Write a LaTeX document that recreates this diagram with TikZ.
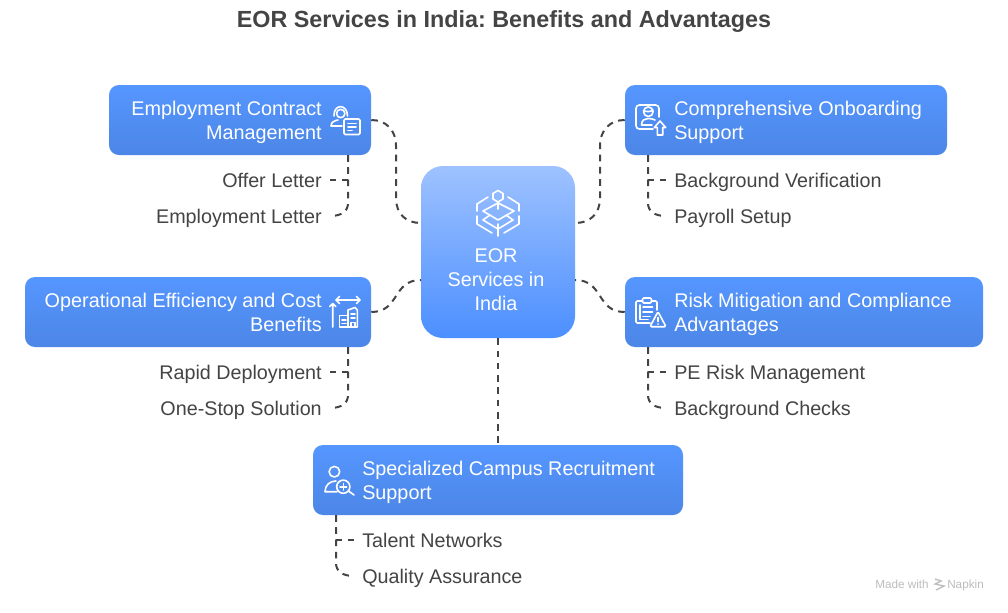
\documentclass[tikz,border=0pt]{standalone}
\usepackage{fontspec}
\setmainfont{Liberation Sans}
\frenchspacing
\definecolor{ink}{HTML}{444444}
\definecolor{bt}{HTML}{5596FF}
\definecolor{bb}{HTML}{4C86E6}
\definecolor{ct}{HTML}{9EC2FF}
\definecolor{cb}{HTML}{4C8FFF}
\definecolor{brandgrey}{HTML}{BDBDBD}
\tikzset{
 boxnode/.style={rectangle,rounded corners=7.5pt,inner sep=0pt,top color=bt,bottom color=bb,draw=none},
 centerbox/.style={rectangle,rounded corners=16.5pt,inner sep=0pt,top color=ct,bottom color=cb,draw=none},
 label/.style={text=white,font=\fontsize{14.85}{18}\selectfont,inner sep=0pt},
 leaf/.style={text=ink,font=\fontsize{14.8}{18}\selectfont,inner sep=0pt},
 conn/.style={draw=ink,line width=1.5pt,dash pattern=on 5pt off 4.2pt},
 icon/.style={draw=white,line width=1.2pt,line join=round,line cap=round},
}
\newcommand{\dpt}{\vphantom{p}}
\begin{document}
\begin{tikzpicture}[x=0.75pt,y=-0.75pt]
\useasboundingbox (0,0) rectangle (1008,612);
\fill[white] (0,0) rectangle (1008,612);
\node[text=ink,font=\fontsize{17.5}{22}\bfseries\selectfont,inner sep=0pt] (title) at (504,22) {EOR Services in India: Benefits and Advantages};
% boxes
\node[boxnode,minimum width=262*0.75pt,minimum height=70*0.75pt] (ec) at (240,120) {};
\node[boxnode,minimum width=322*0.75pt,minimum height=70*0.75pt] (co) at (786,120) {};
\node[boxnode,minimum width=346*0.75pt,minimum height=70*0.75pt] (oe) at (198,312) {};
\node[boxnode,minimum width=358*0.75pt,minimum height=70*0.75pt] (rm) at (804,312) {};
\node[boxnode,minimum width=370*0.75pt,minimum height=70*0.75pt] (sc) at (498,480) {};
\node[centerbox,minimum width=154*0.75pt,minimum height=172*0.75pt] (eor) at (498,252) {};
% box texts
\node[label,align=right,anchor=east] (ect) at (322,122) {Employment Contract\\Management\dpt};
\node[label,align=left,anchor=west] (cot) at (674,122) {Comprehensive Onboarding\\Support\dpt};
\node[label,align=right,anchor=east] (oet) at (322,314) {Operational Efficiency and Cost\\Benefits\dpt};
\node[label,align=left,anchor=west] (rmt) at (674,314) {Risk Mitigation and Compliance\\Advantages\dpt};
\node[label,align=left,anchor=west] (sct) at (362,482) {Specialized Campus Recruitment\\Support\dpt};
\node[label,align=center] (eort) at (496,282) {EOR\\Services in\\India\dpt};
% leaves
\node[leaf,anchor=base east] (l1) at (322,187) {Offer Letter};
\node[leaf,anchor=base east] (l2) at (322,223) {Employment Letter};
\node[leaf,anchor=base west] (l3) at (674,187) {Background Verification};
\node[leaf,anchor=base west] (l4) at (674,223) {Payroll Setup};
\node[leaf,anchor=base east] (l5) at (322,379) {Rapid Deployment};
\node[leaf,anchor=base east] (l6) at (322,415) {One-Stop Solution};
\node[leaf,anchor=base west] (l7) at (674,379) {PE Risk Management};
\node[leaf,anchor=base west] (l8) at (674,415) {Background Checks};
\node[leaf,anchor=base west] (l9) at (362,547) {Talent Networks};
\node[leaf,anchor=base west] (l10) at (362,583) {Quality Assurance};
% connector ends
\coordinate (eorA) at (421,223);
\coordinate (eorB) at (575,223);
\coordinate (eorC) at (421,280);
\coordinate (eorD) at (575,280);
\draw[conn] (ec.east) .. controls (386,120) and (396,130) .. (396,146) -- (396,198) .. controls (396,214) and (406,223) .. (eorA);
\draw[conn] (co.west) .. controls (610,120) and (600,130) .. (600,146) -- (600,198) .. controls (600,214) and (590,223) .. (eorB);
\draw[conn] (oe.east) .. controls (400,312) and (392,280) .. (eorC);
\draw[conn] (rm.west) .. controls (596,312) and (604,280) .. (eorD);
\draw[conn] (eor.south) -- (sc.north);
% leaf connectors
\coordinate (a1) at (348,155);\coordinate (e1) at (330,180);\coordinate (e2) at (330,216);
\coordinate (a2) at (648,155);\coordinate (e3) at (666,180);\coordinate (e4) at (666,216);
\coordinate (a3) at (348,347);\coordinate (e5) at (330,372);\coordinate (e6) at (330,408);
\coordinate (a4) at (648,347);\coordinate (e7) at (666,372);\coordinate (e8) at (666,408);
\coordinate (a5) at (336,515);\coordinate (e9) at (354,540);\coordinate (e10) at (354,576);
\draw[conn] (a1) -- (348,180) -- (e1);
\draw[conn] (a1) -- (348,203) .. controls (348,211) and (342,216) .. (e2);
\draw[conn] (a2) -- (648,180) -- (e3);
\draw[conn] (a2) -- (648,203) .. controls (648,211) and (654,216) .. (e4);
\draw[conn] (a3) -- (348,372) -- (e5);
\draw[conn] (a3) -- (348,395) .. controls (348,403) and (342,408) .. (e6);
\draw[conn] (a4) -- (648,372) -- (e7);
\draw[conn] (a4) -- (648,395) .. controls (648,403) and (654,408) .. (e8);
\draw[conn] (a5) -- (336,540) -- (e9);
\draw[conn] (a5) -- (336,563) .. controls (336,571) and (342,576) .. (e10);
% centre icon
\draw[icon] (498,190.5) -- (503,193.5) -- (503,199) -- (498,202) -- (493,199) -- (493,193.5) -- cycle;
\draw[icon] (498,202) -- (498,209);
\draw[icon] (498,203) -- (514,211) -- (498,220) -- (483,211) -- cycle;
\draw[icon] (490,215) -- (483,220) -- (498,229) -- (513,220) -- (506,215);
\draw[icon] (488,197) -- (477,204) -- (477,211);
\draw[icon] (508,197) -- (519,204) -- (519,211);
\draw[icon] (477,216) -- (477,224) -- (492,233);
\draw[icon] (519,216) -- (519,224) -- (504,233);
\draw[icon] (498,224) -- (498,236);
% EC icon
\draw[icon] (340.7,113.5) circle (4.2);
\draw[icon] (334,116) .. controls (333.5,103.5) and (347.5,103.5) .. (347.5,116);
\draw[icon] (331,126) .. controls (331,122) and (335,120.5) .. (338,120) (331,126) -- (342,126);
\draw[icon,rounded corners=1pt] (344,119) rectangle (360,134.5);
\draw[icon] (348,123.5) -- (356,123.5) (348,127) -- (356,127) (348,130.5) -- (352,130.5);
% Operational icon
\draw[icon] (336,300) -- (360,300) (339.5,296.5) -- (336,300) -- (339.5,303.5) (356.5,296.5) -- (360,300) -- (356.5,303.5);
\draw[icon] (332.7,327) -- (332.7,303.5) (329.7,306.5) -- (332.7,303.5) -- (335.7,306.5);
\draw[icon] (339.5,327) -- (339.5,315.5) -- (348,315.5) -- (348,327) -- cycle;
\draw[icon] (348,327) -- (348,310) -- (355,307.5) -- (357.3,310) -- (357.3,327) -- cycle;
\draw[icon] (342,320) -- (346,320) (342,323.5) -- (346,323.5) (351,314) -- (355,314) (351,318) -- (355,318);
\draw[icon] (351,327) -- (351,322.5) -- (355,322.5) -- (355,327);
% Onboarding icon
\draw[icon,rounded corners=2.5pt] (659,117) -- (659,105) -- (636,105) -- (636,129) -- (653,129);
\draw[icon] (648.3,111.7) circle (4.8);
\draw[icon] (643.5,110.5) .. controls (646,112) and (651,112) .. (653,110);
\draw[icon] (641.5,125) .. controls (641.5,120) and (645,118.5) .. (648,118.5) .. controls (651,118.5) and (653,119) .. (655,120) (641.5,125) -- (652,125);
\draw[icon] (654.3,127.5) -- (660,121) -- (665.7,127.5) -- (662.7,127.5) -- (662.7,135) -- (657.3,135) -- (657.3,127.5) -- cycle;
% Risk icon
\draw[icon,rounded corners=1pt] (652,301) -- (657,301) -- (657,310) (650,323) -- (636,323) -- (636,301) -- (642,301);
\draw[icon,rounded corners=1pt] (642.5,298) rectangle (651.5,303);
\draw[icon] (640,305) -- (640,319.5) -- (648,319.5);
\draw[icon] (643,307) -- (652.5,307) (643,311.7) -- (652.5,311.7) (643,316.5) -- (650,316.5);
\draw[icon,rounded corners=1pt] (658,311.7) -- (666,326.7) -- (650,326.7) -- cycle;
\draw[icon] (658,317.5) -- (658,321.5) (658,324) -- (658,324.1);
% Campus icon
\draw[icon] (334.4,471.7) circle (5.3);
\draw[icon] (325,491.7) .. controls (325,485) and (330,481) .. (336,481) (325,491.7) -- (337,491.7);
\draw[icon] (343.3,486.7) circle (6.6);
\draw[icon] (343.3,483.5) -- (343.3,490) (340,486.7) -- (346.6,486.7);
\draw[icon] (348.5,491) -- (354,495);
% footer
\node[text=brandgrey,font=\fontsize{8.8}{10}\selectfont,inner sep=0pt,anchor=base west] (mw) at (875,588) {Made with};
\node[text=brandgrey,font=\fontsize{8.8}{10}\selectfont,inner sep=0pt,anchor=base west] (np) at (947,588) {Napkin};
\draw[brandgrey,line width=1pt] (935,579) -- (941,581) -- (935,584) -- (944,586) -- (936,590);
\end{tikzpicture}
\end{document}
